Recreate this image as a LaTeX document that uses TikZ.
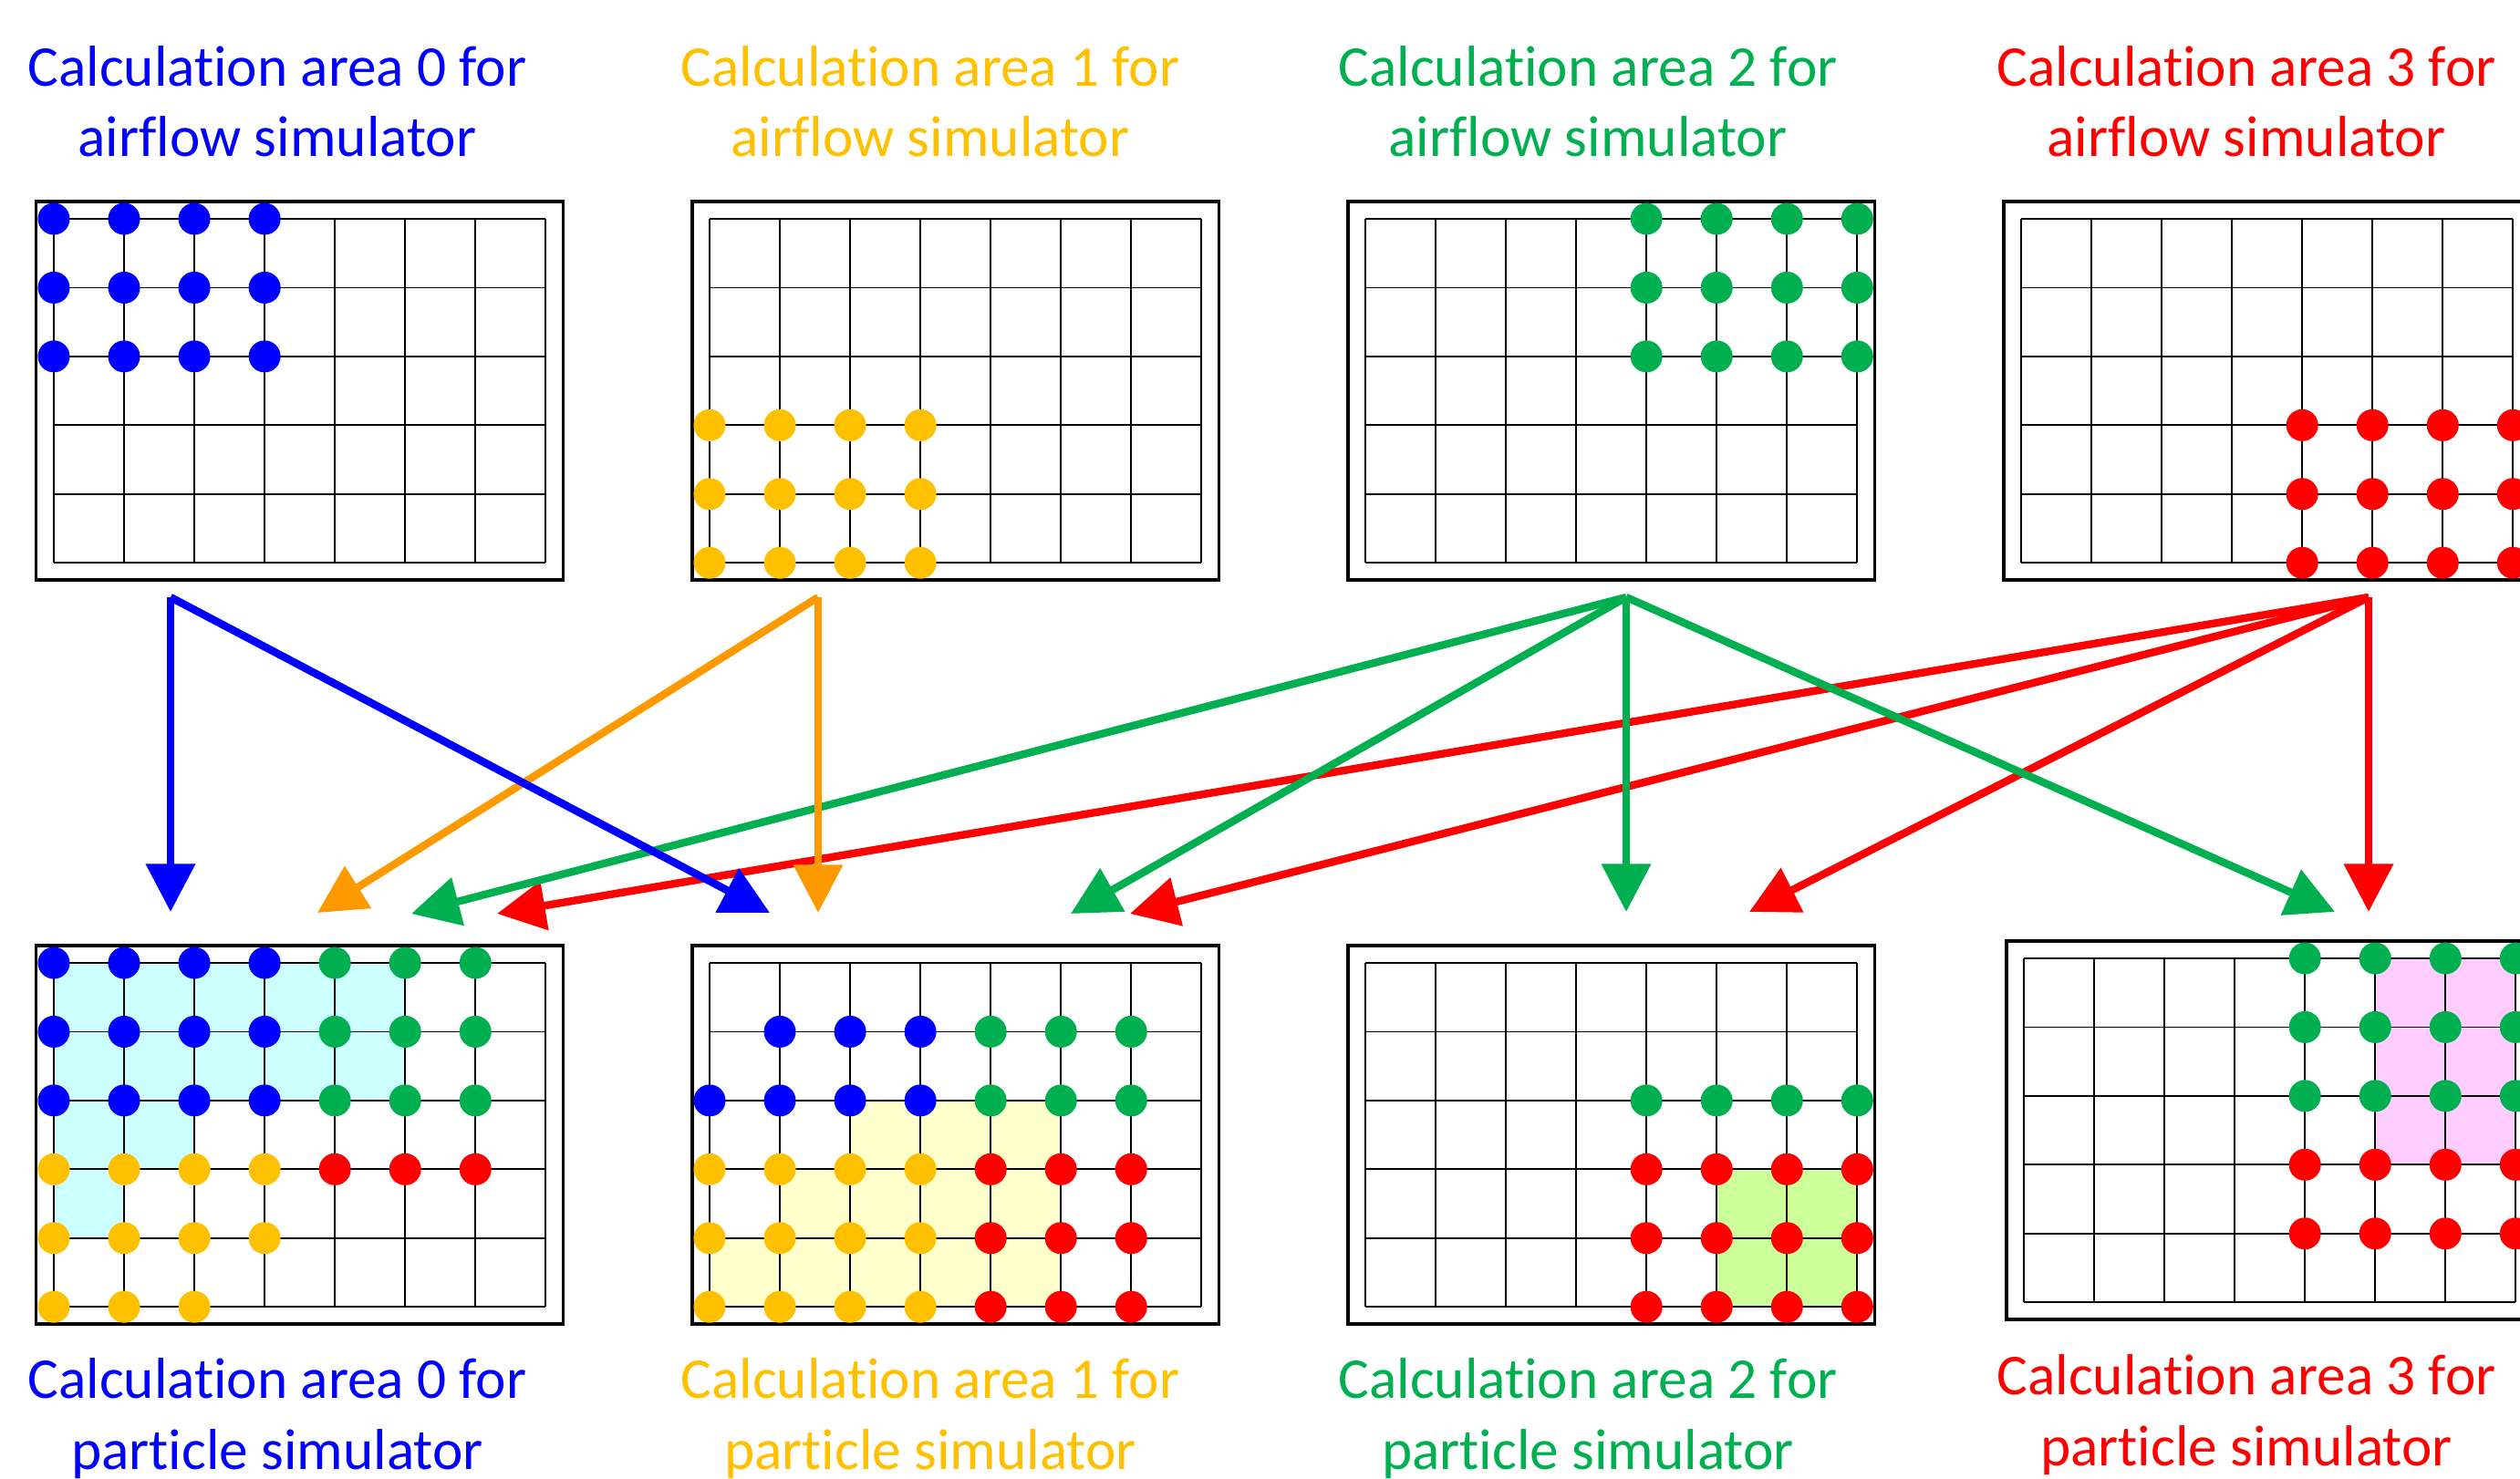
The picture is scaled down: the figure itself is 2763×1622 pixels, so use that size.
\documentclass[tikz,border=0pt]{standalone}
\usepackage{fontspec}
\setmainfont{Carlito}[Ligatures=NoCommon]
\usetikzlibrary{arrows.meta}

\definecolor{areablue}{RGB}{0,0,255}
\definecolor{areagold}{RGB}{255,192,0}
\definecolor{areaorange}{RGB}{255,153,0}
\definecolor{areagreen}{RGB}{0,176,80}
\definecolor{areared}{RGB}{255,0,0}
\definecolor{shadecyan}{RGB}{204,255,255}
\definecolor{shadeyellow}{RGB}{255,255,204}
\definecolor{shadelime}{RGB}{204,255,153}
\definecolor{shadepink}{RGB}{255,204,255}

% 7x5 cells and the frame round them, in cell units
\newcommand{\cellgrid}{%
  \draw[panelframe] (-0.25,-0.25) rectangle (7.25,5.25);
  \foreach \cc in {0,...,7} \draw[cellline] (\cc,0) -- (\cc,5);
  \foreach \rr in {0,...,5} \draw[cellline] (0,\rr) -- (7,\rr);}
% a block of grid points: first col, last col, first row, last row, colour
\newcommand{\dotblock}[5]{%
  \foreach \cc in {#1,...,#2}{\foreach \rr in {#3,...,#4}{%
    \fill[#5] (\cc,\rr) circle[radius=0.175cm];}}}

\begin{document}
\begin{tikzpicture}[x=0.01cm,y=-0.01cm,
  panelframe/.style={line width=1pt},
  cellline/.style={line width=0.5pt},
  link/.style={line width=2.4pt,-{Triangle[length=15pt,width=15pt]}},
  areatext/.style={font=\fontsize{18}{21.9}\selectfont,align=center,anchor=base}]
\path[use as bounding box,clip] (0,0) rectangle (2763,1622);

% airflow simulator (anchor = baseline of the last line)
\node[areatext,text=areablue]  (air0) at (304,172)  {Calculation area 0 for\\airflow simulator};
\node[areatext,text=areagold]  (air1) at (1020,172) {Calculation area 1 for\\airflow simulator};
\node[areatext,text=areagreen] (air2) at (1741,172) {Calculation area 2 for\\airflow simulator};
\node[areatext,text=areared]   (air3) at (2463,172) {Calculation area 3 for\\airflow simulator};

\begin{scope}[shift={(59,240)},x=0.77cm,y=-0.754cm]
  \cellgrid
  \dotblock{0}{3}{0}{2}{areablue}
\end{scope}
\begin{scope}[shift={(778,240)},x=0.77cm,y=-0.754cm]
  \cellgrid
  \dotblock{0}{3}{3}{5}{areagold}
\end{scope}
\begin{scope}[shift={(1497,240)},x=0.77cm,y=-0.754cm]
  \cellgrid
  \dotblock{4}{7}{0}{2}{areagreen}
\end{scope}
\begin{scope}[shift={(2216,240)},x=0.77cm,y=-0.754cm]
  \cellgrid
  \dotblock{4}{7}{3}{5}{areared}
\end{scope}

% particle simulator
\begin{scope}[shift={(59,1056)},x=0.77cm,y=-0.754cm]
  \fill[shadecyan] (0,0) -| (5,2) -| (2,3) -| (1,4) -| (0,0);
  \cellgrid
  \dotblock{0}{3}{0}{2}{areablue}
  \dotblock{4}{6}{0}{2}{areagreen}
  \dotblock{0}{3}{3}{4}{areagold}
  \dotblock{0}{2}{5}{5}{areagold}
  \dotblock{4}{6}{3}{3}{areared}
\end{scope}
\begin{scope}[shift={(778,1056)},x=0.77cm,y=-0.754cm]
  \fill[shadeyellow] (2,2) -| (5,5) -| (0,4) -| (1,3) -| (2,2);
  \cellgrid
  \dotblock{1}{3}{1}{1}{areablue}
  \dotblock{0}{3}{2}{2}{areablue}
  \dotblock{4}{6}{1}{2}{areagreen}
  \dotblock{0}{3}{3}{5}{areagold}
  \dotblock{4}{6}{3}{5}{areared}
\end{scope}
\begin{scope}[shift={(1497,1056)},x=0.77cm,y=-0.754cm]
  \fill[shadelime] (5,3) rectangle (7,5);
  \cellgrid
  \dotblock{4}{7}{2}{2}{areagreen}
  \dotblock{4}{7}{3}{5}{areared}
\end{scope}
\begin{scope}[shift={(2219,1051)},x=0.77cm,y=-0.754cm]
  \fill[shadepink] (5,0) rectangle (7,3);
  \cellgrid
  \dotblock{4}{7}{0}{2}{areagreen}
  \dotblock{4}{7}{3}{4}{areared}
\end{scope}

\node[areatext,text=areablue]  (part0) at (304,1611)  {Calculation area 0 for\\particle simulator};
\node[areatext,text=areagold]  (part1) at (1020,1611) {Calculation area 1 for\\particle simulator};
\node[areatext,text=areagreen] (part2) at (1741,1611) {Calculation area 2 for\\particle simulator};
\node[areatext,text=areared]   (part3) at (2463,1607) {Calculation area 3 for\\particle simulator};

% hand-over points
\coordinate (from0) at (187,655);
\coordinate (from1) at (897,655);
\coordinate (from2) at (1783,655);
\coordinate (from3) at (2597,655);
\coordinate (to0b) at (187,1000);
\coordinate (to1b) at (844,1001);
\coordinate (to0o) at (348,1001);
\coordinate (to1o) at (897,1001);
\coordinate (to0g) at (451,1002);
\coordinate (to1g) at (1174,1002);
\coordinate (to2g) at (1783,1000);
\coordinate (to3g) at (2560,1000);
\coordinate (to0r) at (545,1002);
\coordinate (to1r) at (1239,1002);
\coordinate (to2r) at (1918,1000);
\coordinate (to3r) at (2597,1000);

\foreach \t in {to0r,to1r,to2r,to3r} \draw[link,areared] (from3) -- (\t);
\foreach \t in {to0g,to1g,to2g,to3g} \draw[link,areagreen] (from2) -- (\t);
\foreach \t in {to0o,to1o} \draw[link,areaorange] (from1) -- (\t);
\foreach \t in {to0b,to1b} \draw[link,areablue] (from0) -- (\t);
\end{tikzpicture}
\end{document}
